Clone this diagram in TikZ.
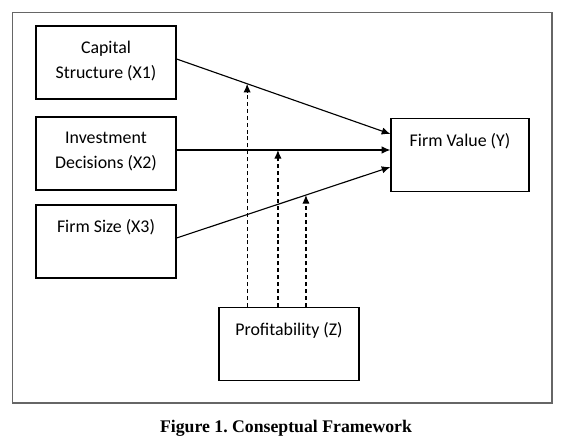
\documentclass[tikz,border=0pt]{standalone}
\usepackage{fontspec}
\setmainfont{Carlito}
\newfontfamily\capfont{Liberation Serif}
\usetikzlibrary{arrows.meta,positioning}
\tikzstyle{block} = [rectangle, draw, line width=0.9pt, minimum width=105pt, minimum height=54.75pt, inner sep=0pt]
\tikzstyle{blocktext} = [anchor=north, align=center, inner sep=0pt, font=\fontsize{13.4}{18.75}\selectfont]
\tikzstyle{line} = [draw, line width=0.85pt, -{Latex[length=6.5pt,width=5.5pt]}]
\tikzstyle{dline} = [line, dash pattern=on 3pt off 2.2pt]

\begin{document}
\begin{tikzpicture}[x=0.75pt, y=-0.75pt]
    \useasboundingbox (0,0) rectangle (565,441);
    % outer frame
    \draw [gray!80!black, line width=0.8pt] (12.5,12.5) rectangle (552,403);

    % boxes
    \node [block] (capital) at (106,62.5) {};
    \node [block] (invest) at (106,153.5) {};
    \node [block] (size) at (106,241.5) {};
    \node [block, minimum width=103.5pt] (value) at (460,155) {};
    \node [block] (profit) at (289,344) {};

    % box texts
    \node [blocktext] (capitaltext) at ([shift={(0,15)}]capital.north) {Capital\\Structure (X1)};
    \node [blocktext] (investtext) at ([shift={(0,15)}]invest.north) {Investment\\Decisions (X2)};
    \node [blocktext] (sizetext) at ([shift={(0,15)}]size.north) {Firm Size (X3)};
    \node [blocktext] (valuetext) at ([shift={(0,15)}]value.north) {Firm Value (Y)};
    \node [blocktext] (profittext) at ([shift={(0,15)}]profit.north) {Profitability (Z)};

    % direct effects
    \path [line] ([shift={(0,-3.5)}]capital.east) -- coordinate[pos=0.33] (m1) ([shift={(0,-21)}]value.west);
    \path [line] ([shift={(0,-3.5)}]invest.east) -- coordinate[pos=0.474] (m2) ([shift={(0,-5)}]value.west);
    \path [line] ([shift={(0,-3.5)}]size.east) -- coordinate[pos=0.605] (m3) ([shift={(0,12)}]value.west);

    % moderation
    \path [dline] (m1 |- profit.north) -- (m1);
    \path [dline] (m2 |- profit.north) -- (m2);
    \path [dline] (m3 |- profit.north) -- (m3);

    % caption
    \node (caption) at (286,428) {\capfont\bfseries\fontsize{13.3}{15}\selectfont Figure 1.\ Conseptual Framework};
\end{tikzpicture}
\end{document}
